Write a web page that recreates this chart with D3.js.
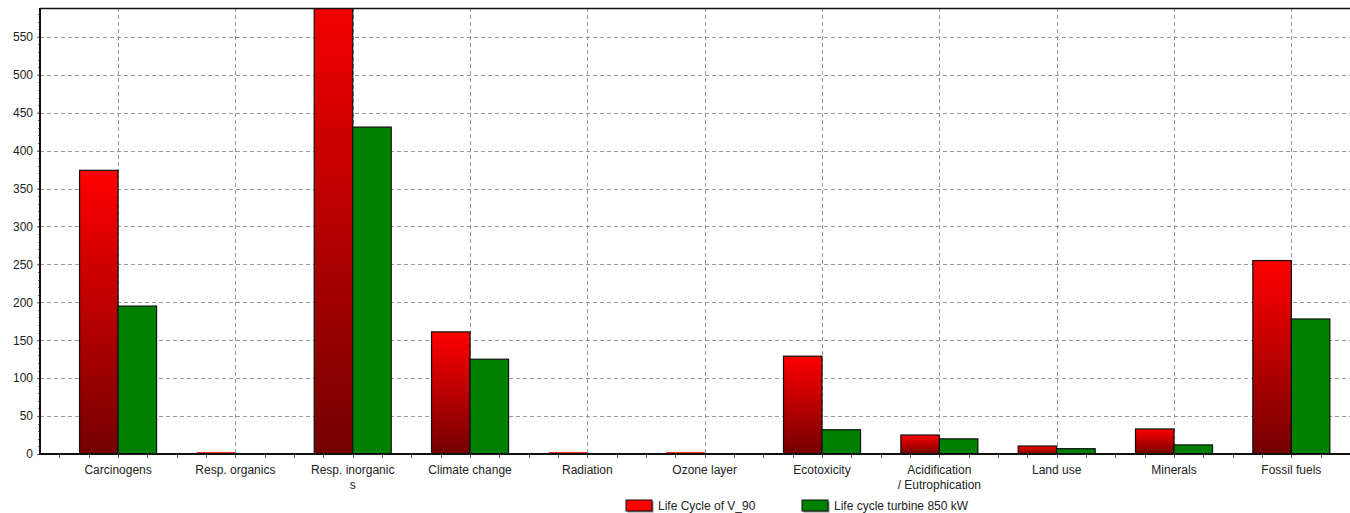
<!DOCTYPE html>
<html>
<head>
<meta charset="utf-8">
<script src="https://cdn.jsdelivr.net/npm/d3@7"></script>
<style>
  body { margin: 0; background: #fff; }
  svg { font-family: "Liberation Sans", Arial, sans-serif; }
  .tick text { font-size: 12px; fill: #222; }
</style>
</head>
<body>
<svg id="chart" width="1350" height="513"></svg>
<script>
// categories and values
var categories = ['Carcinogens', 'Resp. organics', 'Resp. inorganic\ns', 'Climate change', 'Radiation',
  'Ozone layer', 'Ecotoxicity', 'Acidification\n/ Eutrophication', 'Land use', 'Minerals', 'Fossil fuels'];
var seriesNames = ['Life Cycle of V_90', 'Life cycle turbine 850 kW'];
var v90 = [374, 1, 640, 161, 0.6, 0.5, 129, 25, 10.5, 33, 255];
var turbine850 = [195, 0.2, 431, 125, 0.1, 0.1, 32, 20, 7, 12, 178];
var yTicks = [0, 50, 100, 150, 200, 250, 300, 350, 400, 450, 500, 550];

var margin = { top: 8, right: 0, bottom: 59, left: 40 };
var svg = d3.select('#chart');
var width = +svg.attr('width'), height = +svg.attr('height');
var innerW = width - margin.left - margin.right;
var innerH = height - margin.top - margin.bottom;

var defs = svg.append('defs');
var grad = defs.append('linearGradient').attr('id', 'redGrad')
  .attr('x1', 0).attr('y1', 0).attr('x2', 0).attr('y2', 1);
grad.append('stop').attr('offset', '0%').attr('stop-color', '#ff0000');
grad.append('stop').attr('offset', '100%').attr('stop-color', '#740000');
defs.append('clipPath').attr('id', 'plotClip').append('rect')
  .attr('x', 0).attr('y', 0).attr('width', innerW).attr('height', innerH);

var g = svg.append('g').attr('transform', 'translate(' + margin.left + ',' + margin.top + ')');

var x0 = d3.scaleBand().domain(categories).range([19.4, innerW]).paddingInner(0).paddingOuter(0);
var x1 = d3.scaleBand().domain(seriesNames).range([0, x0.bandwidth()]).paddingInner(0).paddingOuter(0.523);
var y = d3.scaleLinear().domain([0, 588]).range([innerH, 0]);

// horizontal grid
g.append('g').selectAll('line').data(yTicks.filter(function(d){ return d > 0; })).join('line')
  .attr('x1', 0).attr('x2', innerW)
  .attr('y1', function(d){ return Math.round(y(d)) + 0.5; })
  .attr('y2', function(d){ return Math.round(y(d)) + 0.5; })
  .attr('stroke', '#999').attr('stroke-dasharray', '4,3');

// vertical grid at category centers
g.append('g').selectAll('line').data(categories).join('line')
  .attr('x1', function(d){ return Math.round(x0(d) + x0.bandwidth() / 2) + 0.5; })
  .attr('x2', function(d){ return Math.round(x0(d) + x0.bandwidth() / 2) + 0.5; })
  .attr('y1', 0).attr('y2', innerH)
  .attr('stroke', '#999').attr('stroke-dasharray', '4,3');

// bars
var rows = categories.map(function(c, i){ return { cat: c, vals: [v90[i], turbine850[i]] }; });
var groups = g.append('g').attr('clip-path', 'url(#plotClip)')
  .selectAll('g').data(rows).join('g')
  .attr('transform', function(d){ return 'translate(' + x0(d.cat) + ',0)'; });

groups.selectAll('rect').data(function(d){
    return d.vals.map(function(v, k){ return { name: seriesNames[k], v: v, k: k }; });
  }).join('rect')
  .attr('x', function(d){ return x1(d.name); })
  .attr('y', function(d){ return y(d.v); })
  .attr('width', x1.bandwidth())
  .attr('height', function(d){ return innerH - y(d.v); })
  .attr('fill', function(d){ return d.k === 0 ? 'url(#redGrad)' : '#008000'; })
  .attr('stroke', function(d){ return d.v < 2 ? 'none' : '#111'; })
  .attr('stroke-width', 1.2);

// tiny values show as a red line on the axis
groups.filter(function(d){ return d.vals[0] < 2; }).append('line')
  .attr('x1', x1(seriesNames[0])).attr('x2', x1(seriesNames[0]) + x1.bandwidth())
  .attr('y1', innerH - 1).attr('y2', innerH - 1)
  .attr('stroke', '#ff3030').attr('stroke-width', 2);

// y axis
var yAxis = d3.axisLeft(y).tickValues(yTicks).tickSize(3).tickPadding(4);
var yAxis_g = g.append('g').call(yAxis);
yAxis_g.select('.domain').remove();
yAxis_g.selectAll('.tick line').attr('stroke', '#555');
g.append('g').selectAll('line').data(d3.range(10, 588, 10)).join('line')
  .attr('x1', -2).attr('x2', 0)
  .attr('y1', function(d){ return Math.round(y(d)) + 0.5; })
  .attr('y2', function(d){ return Math.round(y(d)) + 0.5; })
  .attr('stroke', '#777');

// x axis minor ticks (quarter steps)
var step = x0.step();
var xt = [];
categories.forEach(function(c){
  for (var q = 0; q < 4; q++) xt.push(x0(c) + q * step / 4);
});
g.append('g').selectAll('line').data(xt).join('line')
  .attr('x1', function(d){ return Math.round(d) + 0.5; })
  .attr('x2', function(d){ return Math.round(d) + 0.5; })
  .attr('y1', innerH).attr('y2', innerH + 4)
  .attr('stroke', '#555');

// x labels
var xlab = g.append('g').selectAll('text').data(categories).join('text')
  .attr('x', function(d){ return x0(d) + step / 2; })
  .attr('y', innerH + 20)
  .attr('text-anchor', 'middle')
  .attr('font-size', 12).attr('fill', '#222');
xlab.each(function(d){
  var t = d3.select(this);
  d.split('\n').forEach(function(part, i){
    t.append('tspan').attr('x', x0(d) + step / 2).attr('dy', i === 0 ? 0 : 15).text(part);
  });
});

// frame
g.append('line').attr('x1', 0).attr('x2', innerW).attr('y1', 0.5).attr('y2', 0.5)
  .attr('stroke', '#111').attr('stroke-width', 1.5);
g.append('line').attr('x1', 0).attr('x2', 0).attr('y1', 0).attr('y2', innerH + 1)
  .attr('stroke', '#111').attr('stroke-width', 2);
g.append('line').attr('x1', 0).attr('x2', innerW).attr('y1', innerH).attr('y2', innerH)
  .attr('stroke', '#111').attr('stroke-width', 2);

// legend
var legendX = [626, 802];
var legend = svg.append('g').selectAll('g').data(seriesNames).join('g')
  .attr('transform', function(d, i){ return 'translate(' + legendX[i] + ',500)'; });
legend.append('rect').attr('x', 1.5).attr('y', 1.5).attr('width', 26).attr('height', 11).attr('fill', '#888');
legend.append('rect').attr('width', 26).attr('height', 11)
  .attr('fill', function(d, i){ return i === 0 ? '#ff0000' : '#008000'; })
  .attr('stroke', '#111');
legend.append('text').attr('x', 32).attr('y', 10).attr('font-size', 12).attr('fill', '#222')
  .text(function(d){ return d; });
</script>
</body>
</html>
